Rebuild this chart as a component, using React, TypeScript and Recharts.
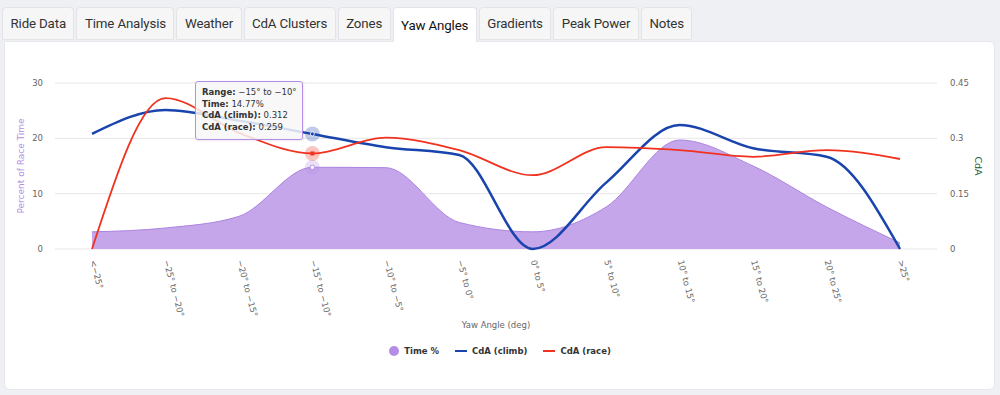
import React from 'react';
import {
  ComposedChart,
  Area,
  Line,
  XAxis,
  YAxis,
  CartesianGrid,
  Tooltip,
} from 'recharts';

const categories = [
  '<−25°',
  '−25° to −20°',
  '−20° to −15°',
  '−15° to −10°',
  '−10° to −5°',
  '−5° to 0°',
  '0° to 5°',
  '5° to 10°',
  '10° to 15°',
  '15° to 20°',
  '20° to 25°',
  '>25°',
];
const timePct = [3.1, 3.8, 5.9, 14.77, 14.7, 4.8, 3.1, 7.6, 19.7, 15.0, 7.6, 1.1];
const cdaClimb = [0.312, 0.377, 0.348, 0.312, 0.276, 0.255, 0.0, 0.18, 0.336, 0.273, 0.25, 0.0];
const cdaRace = [0.0, 0.409, 0.315, 0.259, 0.302, 0.268, 0.2, 0.276, 0.268, 0.25, 0.268, 0.244];

const leftTicks = [0, 10, 20, 30];
const rightTicks = [0, 0.15, 0.3, 0.45];
const tabs = ['Ride Data', 'Time Analysis', 'Weather', 'CdA Clusters', 'Zones', 'Yaw Angles', 'Gradients', 'Peak Power', 'Notes'];
const activeTab = 'Yaw Angles';

const data = categories.map((c, i) => ({
  range: c,
  time: timePct[i],
  climb: cdaClimb[i],
  race: cdaRace[i],
}));

const PURPLE = '#b48ee6';
const AREA_FILL = '#c6a6ea';
const BLUE = '#1a44ad';
const RED = '#f0321f';
const FONT = '"DejaVu Sans", Verdana, sans-serif';

const XTick = (props: any) => {
  const { x, y, payload } = props;
  return (
    <text
      transform={`translate(${x - 2},${y + 12}) rotate(75)`}
      textAnchor="start"
      fontSize={8.5}
      fontFamily={FONT}
      fill="#666"
    >
      {payload.value}
    </text>
  );
};

const TipContent = (props: any) => {
  const { payload, label } = props;
  if (!payload || !payload.length) return null;
  const get = (k: string) => payload.find((p: any) => p.dataKey === k)?.value;
  const row = (l: string, v: string) => (
    <div style={{ whiteSpace: 'nowrap' }}>
      <b>{l}</b> {v}
    </div>
  );
  return (
    <div
      style={{
        background: 'rgba(247,247,247,0.85)',
        border: `1px solid ${PURPLE}`,
        borderRadius: 3,
        padding: '5px 5px 5px 6px',
        fontFamily: FONT,
        fontSize: 8.5,
        lineHeight: '11.7px',
        color: '#333',
        width: 95,
        boxShadow: '1px 1px 2px rgba(0,0,0,0.08)',
      }}
    >
      {row('Range:', String(label))}
      {row('Time:', `${get('time')}%`)}
      {row('CdA (climb):', `${get('climb')}`)}
      {row('CdA (race):', `${get('race')}`)}
    </div>
  );
};

const makeDot = (color: string, shape: 'circle' | 'square' | 'ring') => (p: any) => {
  const { cx, cy } = p;
  if (cx == null || cy == null) return <g />;
  return (
    <g>
      <circle cx={cx} cy={cy} r={7.5} fill={color} fillOpacity={0.28} />
      {shape === 'square' ? (
        <rect x={cx - 2} y={cy - 2} width={4} height={4} fill={color} />
      ) : shape === 'ring' ? (
        <circle cx={cx} cy={cy} r={2.2} fill="#fff" stroke={color} strokeWidth={1} />
      ) : (
        <circle cx={cx} cy={cy} r={2} fill={color} stroke="#fff" strokeWidth={0.8} />
      )}
    </g>
  );
};

const LeftLabel = () => (
  <text
    transform={`translate(21,166) rotate(-90)`}
    textAnchor="middle"
    dominantBaseline="central"
    fontSize={9}
    fontFamily={FONT}
    fill={PURPLE}
  >
    Percent of Race Time
  </text>
);

const RightLabel = () => (
  <text
    transform={`translate(978,166) rotate(90)`}
    textAnchor="middle"
    dominantBaseline="central"
    fontSize={9.5}
    fontFamily={FONT}
    fill="#1e5e3c"
  >
    CdA
  </text>
);

const XLabel = (props: any) => {
  const vb = props.viewBox || { x: 55, y: 249, width: 882 };
  return (
    <text
      x={vb.x + vb.width / 2}
      y={325}
      textAnchor="middle"
      dominantBaseline="central"
      fontSize={8.5}
      fontFamily={FONT}
      fill="#666"
    >
      Yaw Angle (deg)
    </text>
  );
};

const legendItems = [
  { name: 'Time %', color: PURPLE, kind: 'dot' },
  { name: 'CdA (climb)', color: BLUE, kind: 'line' },
  { name: 'CdA (race)', color: RED, kind: 'line' },
];

export default function App() {
  return (
    <div
      style={{
        position: 'absolute',
        left: 0,
        top: 0,
        width: 1000,
        height: 395,
        background: '#eef0f3',
        overflow: 'hidden',
        fontFamily: 'Roboto, sans-serif',
      }}
    >
      {/* tabs */}
      <div style={{ position: 'absolute', left: 2, top: 7, display: 'flex', gap: 2 }}>
        {tabs.map((t) => {
          const active = t === activeTab;
          return (
            <div
              key={t}
              style={{
                height: active ? 35 : 33,
                padding: '0 7.5px',
                display: 'flex',
                alignItems: 'center',
                fontSize: 13.3,
                color: active ? '#111' : '#333',
                background: active ? '#fff' : '#f6f6f7',
                border: '1px solid #e2e4e7',
                borderBottom: active ? 'none' : '1px solid #e2e4e7',
                borderRadius: '4px 4px 0 0',
                boxSizing: 'border-box',
                position: 'relative',
                zIndex: active ? 2 : 0,
                letterSpacing: -0.15,
              }}
            >
              {t}
            </div>
          );
        })}
      </div>
      {/* panel */}
      <div
        style={{
          position: 'absolute',
          left: 4,
          top: 41,
          width: 991,
          height: 349,
          background: '#fff',
          borderRadius: '0 6px 6px 6px',
          border: '1px solid #e6e8eb',
          boxSizing: 'border-box',
          zIndex: 1,
        }}
      />
      <div style={{ position: 'absolute', left: 0, top: 0, zIndex: 3 }}>
        <ComposedChart
          width={1000}
          height={395}
          data={data}
          margin={{ top: 83, right: 0, bottom: 0, left: 0 }}
        >
          <CartesianGrid vertical={false} yAxisId="left" stroke="#e6e6e6" />
          <XAxis
            dataKey="range"
            height={146}
            padding={{ left: 37, right: 37 }}
            axisLine={false}
            tickLine={false}
            tickSize={0}
            tickMargin={0}
            interval={0}
            tick={<XTick />}
            label={<XLabel />}
          />
          <YAxis
            yAxisId="left"
            orientation="left"
            width={55}
            domain={[0, 30]}
            ticks={leftTicks}
            axisLine={false}
            tickLine={false}
            tickSize={0}
            tickMargin={12}
            tick={{ fontSize: 8.5, fontFamily: FONT, fill: '#666' }}
            label={<LeftLabel />}
          />
          <YAxis
            yAxisId="right"
            orientation="right"
            width={63}
            domain={[0, 0.45]}
            ticks={rightTicks}
            axisLine={false}
            tickLine={false}
            tickSize={0}
            tickMargin={13}
            tick={{ fontSize: 8.5, fontFamily: FONT, fill: '#666' }}
            label={<RightLabel />}
          />
          <Area
            yAxisId="left"
            type="monotone"
            dataKey="time"
            name="Time %"
            stroke="#ab84e0"
            strokeWidth={1}
            fill={AREA_FILL}
            fillOpacity={1}
            dot={false}
            activeDot={makeDot(PURPLE, 'ring')}
            isAnimationActive={false}
          />
          <Line
            yAxisId="right"
            type="monotone"
            dataKey="climb"
            name="CdA (climb)"
            stroke={BLUE}
            strokeWidth={2.5}
            dot={false}
            activeDot={makeDot(BLUE, 'circle')}
            isAnimationActive={false}
          />
          <Line
            yAxisId="right"
            type="monotone"
            dataKey="race"
            name="CdA (race)"
            stroke={RED}
            strokeWidth={1.8}
            dot={false}
            activeDot={makeDot(RED, 'square')}
            isAnimationActive={false}
          />
          <Tooltip
            defaultIndex={3}
            active={true}
            cursor={false}
            position={{ x: 195, y: 81 }}
            content={<TipContent />}
            isAnimationActive={false}
            wrapperStyle={{ outline: 'none' }}
          />
        </ComposedChart>
      </div>
      {/* legend */}
      <div
        style={{
          position: 'absolute',
          left: 0,
          width: 1000,
          top: 345,
          zIndex: 3,
          display: 'flex',
          justifyContent: 'center',
          alignItems: 'center',
          fontFamily: FONT,
          fontSize: 8.5,
          fontWeight: 'bold',
          color: '#333',
          height: 12,
        }}
      >
        {legendItems.map((it, i) => (
          <div key={it.name} style={{ display: 'flex', alignItems: 'center', marginLeft: i === 0 ? 0 : 16 }}>
            {it.kind === 'dot' ? (
              <span style={{ width: 10, height: 10, borderRadius: 5, background: it.color, display: 'inline-block' }} />
            ) : (
              <span style={{ width: 12, height: 2, background: it.color, display: 'inline-block' }} />
            )}
            <span style={{ marginLeft: 5 }}>{it.name}</span>
          </div>
        ))}
      </div>
    </div>
  );
}
